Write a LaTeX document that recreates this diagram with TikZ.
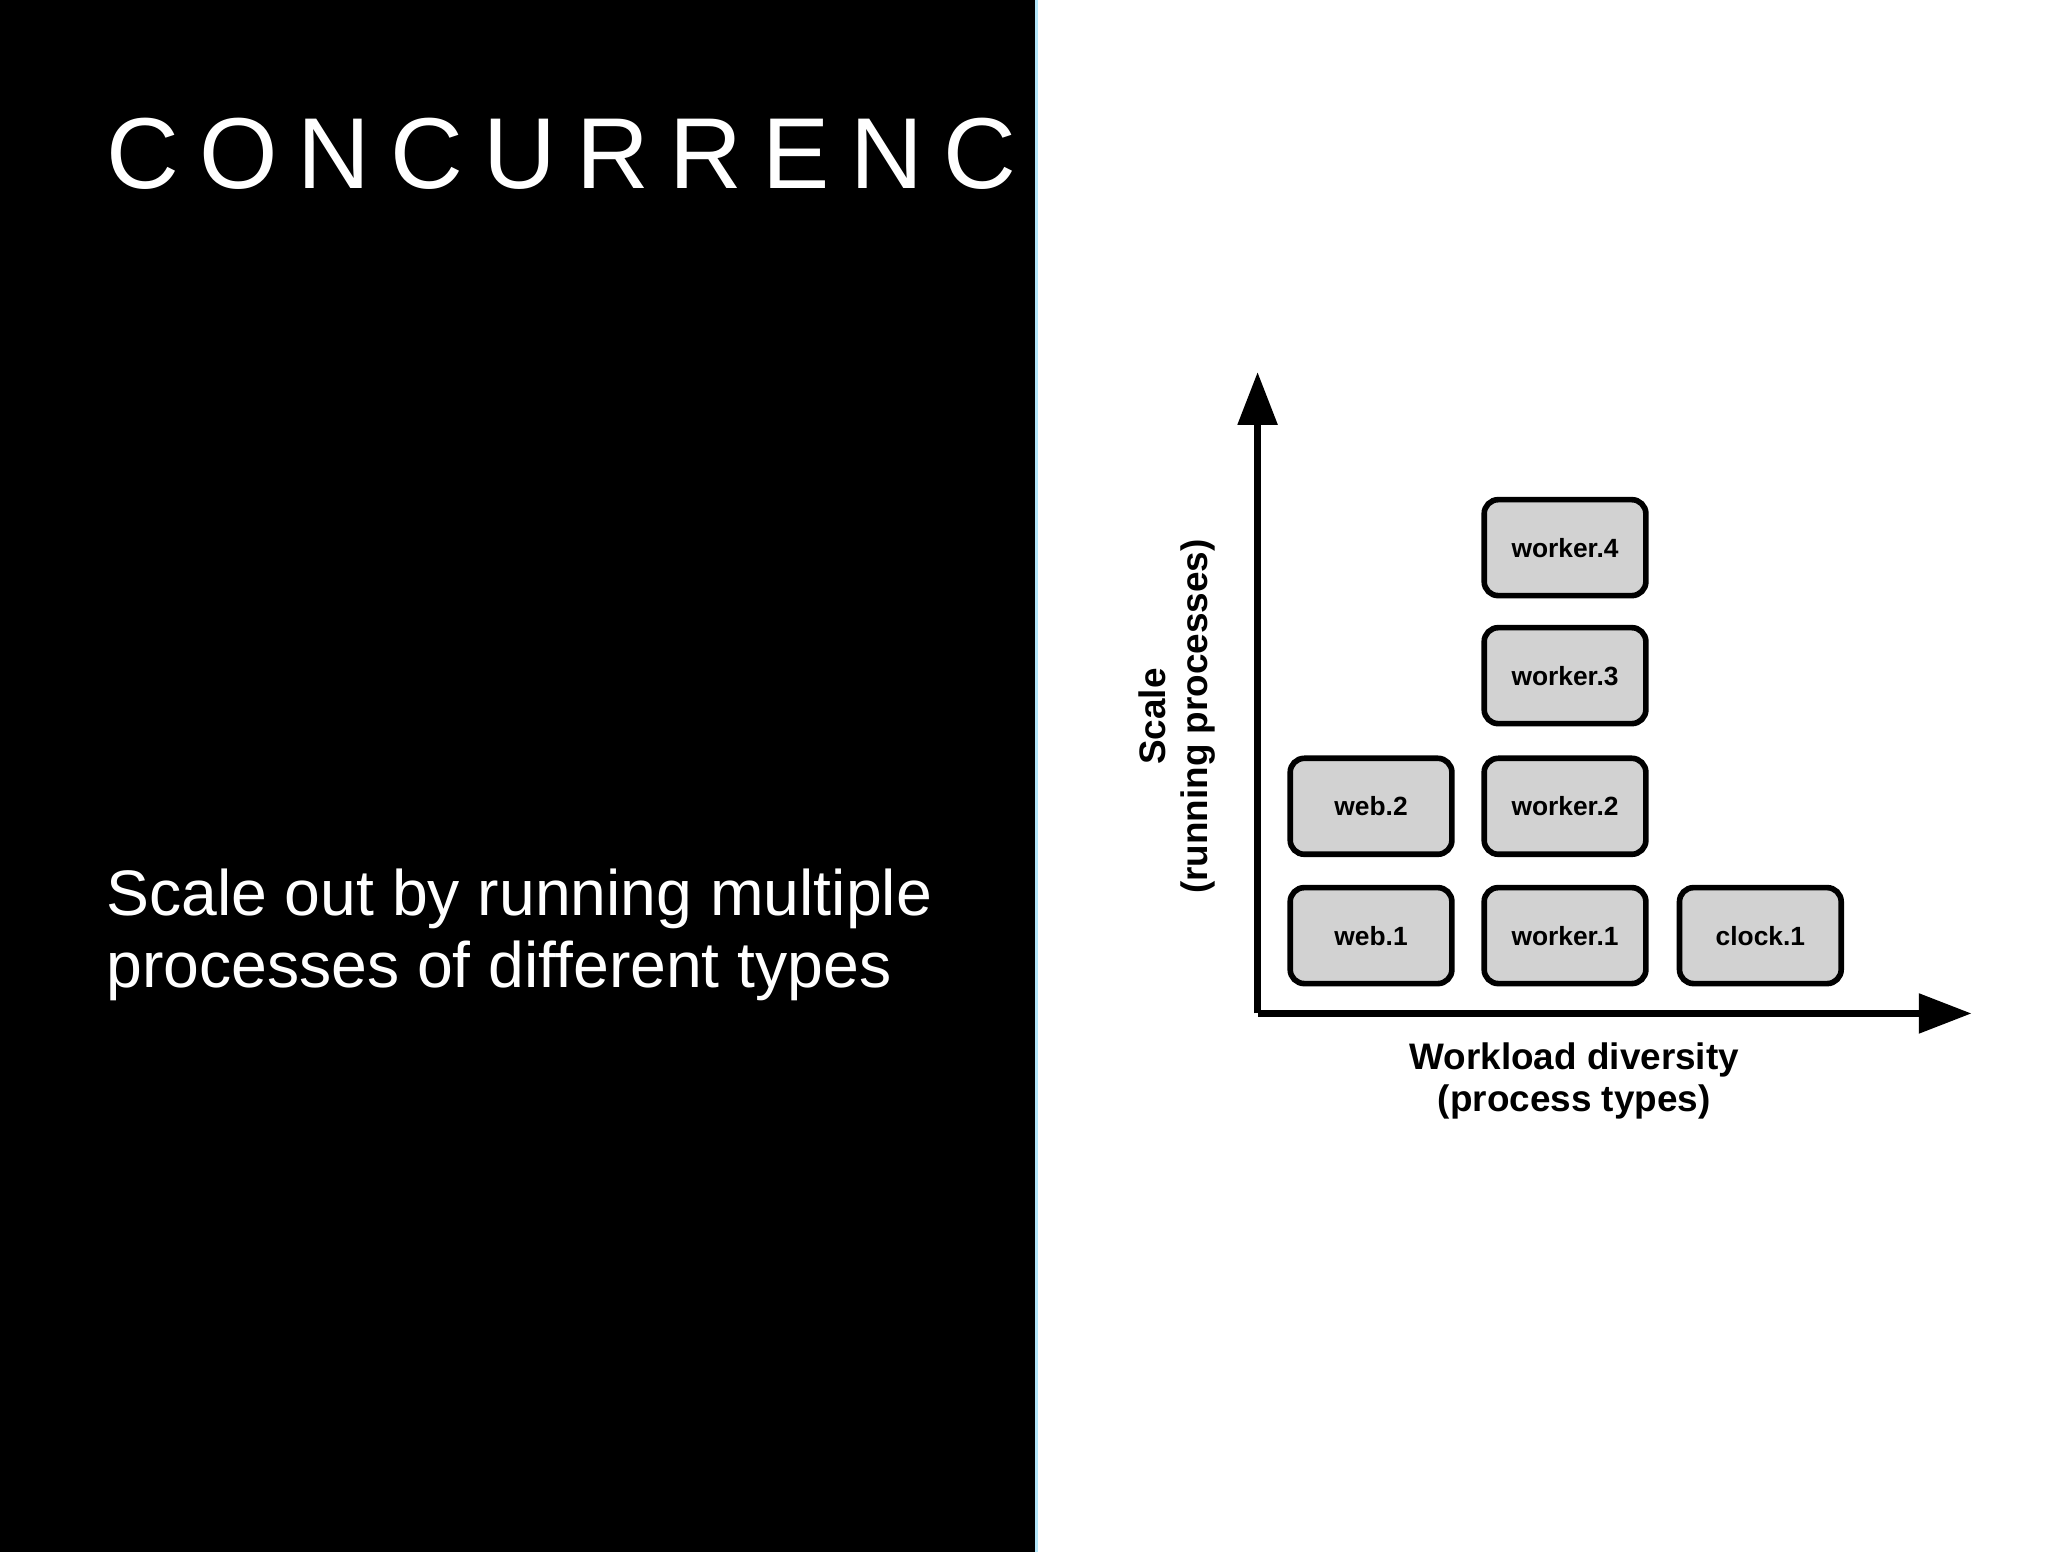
\documentclass[tikz,border=0pt]{standalone}
\usepackage{fontspec}
\setmainfont{Liberation Sans}
\usetikzlibrary{arrows.meta}
\begin{document}
\begin{tikzpicture}[x=0.013196cm,y=-0.013196cm,
  proc/.style={draw=black,line width=1.6pt,fill=gray!35,rounded corners=4pt,minimum width=123*0.3741pt,minimum height=73*0.3741pt,font=\fontsize{7.5}{9}\selectfont\bfseries},
  axis/.style={line width=1.9pt,-{Triangle[length=15pt,width=11pt]}},
  lab/.style={font=\fontsize{10.5}{12}\selectfont\bfseries,align=center}]
\useasboundingbox (0,0) rectangle (1552,1176);
\fill[white] (0,0) rectangle (1552,1176);
\fill[black] (0,0) rectangle (785,1176);
\draw[cyan!30,line width=0.6pt] (785.5,0) -- (785.5,1176);
\node[anchor=base west,white,font=\fontsize{28.7}{30}\selectfont,inner sep=0] (title) at (80,143) {\addfontfeature{LetterSpace=20}CONCURRENCY};
\node[anchor=north west,white,font=\fontsize{18.3}{20.6}\selectfont,align=left,inner sep=0] (body) at (80,658) {Scale out by running multiple\\processes of different types};
\coordinate (o) at (953,768);
\coordinate (ytip) at (953,282);
\coordinate (xtip) at (1494,768);
\draw[axis] (o) -- (ytip);
\draw[axis] (o) -- (xtip);
\node[proc] (w1) at (1039,709) {web.1};
\node[proc] (w2) at (1039,611) {web.2};
\node[proc] (k1) at (1186,709) {worker.1};
\node[proc] (k2) at (1186,611) {worker.2};
\node[proc] (k3) at (1186,512) {worker.3};
\node[proc] (k4) at (1186,415) {worker.4};
\node[proc] (c1) at (1334,709) {clock.1};
\node[lab] (xl) at (1193,819) {Workload diversity\\(process types)};
\node[lab,rotate=90] (yl) at (892,543) {Scale\\(running processes)};
\end{tikzpicture}
\end{document}
